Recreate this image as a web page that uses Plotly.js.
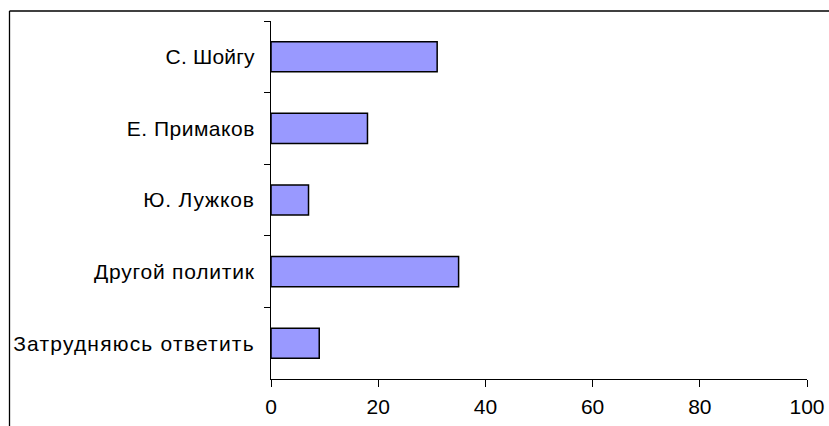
<!DOCTYPE html>
<html>
<head>
<meta charset="utf-8">
<script src="https://cdn.plot.ly/plotly-3.0.1.min.js"></script>
<style>
html,body{margin:0;padding:0;background:#fff;}
#chart{width:829px;height:426px;}
#chart .ytick:nth-of-type(5) text{letter-spacing:0.2px;}
#chart .ytick:nth-of-type(4) text{letter-spacing:0.5px;}
#chart .ytick:nth-of-type(3) text{letter-spacing:0.85px;}
#chart .ytick:nth-of-type(2) text{letter-spacing:0.8px;}
#chart .ytick:nth-of-type(1) text{letter-spacing:1.2px;}
</style>
</head>
<body>
<div id="chart"></div>
<script>
const categories = ["С. Шойгу", "Е. Примаков", "Ю. Лужков", "Другой политик", "Затрудняюсь ответить"];
const values = [31, 18, 7, 35, 9];
const xTicks = [0, 20, 40, 60, 80, 100];

const W = 829, H = 426;
const m = {l: 271, r: 22, t: 21, b: 47};
const pw = W - m.l - m.r, ph = H - m.t - m.b;
const px = v => (v - m.l) / pw;
const py = v => 1 - (v - m.t) / ph;

const trace = {
  type: 'bar',
  orientation: 'h',
  x: values,
  y: categories,
  width: 0.42,
  marker: {color: '#9999FF', line: {color: '#000000', width: 1.5}},
  hoverinfo: 'none'
};

const layout = {
  width: W, height: H,
  margin: m,
  paper_bgcolor: '#ffffff',
  plot_bgcolor: '#ffffff',
  showlegend: false,
  font: {family: '"Liberation Sans", Arial, sans-serif', size: 21, color: '#000'},
  xaxis: {
    range: [0, 100],
    tickvals: xTicks,
    ticktext: xTicks.map(String),
    ticks: 'outside', ticklen: 7, tickwidth: 1, tickcolor: '#000',
    ticklabelstandoff: 2,
    showline: true, linecolor: '#000', linewidth: 1,
    showgrid: false, zeroline: false,
    tickfont: {size: 21}
  },
  yaxis: {
    type: 'category',
    categoryorder: 'array', categoryarray: categories,
    range: [4.5, -0.5],
    ticks: 'outside', ticklen: 6, tickwidth: 1, tickcolor: '#000',
    tickson: 'boundaries',
    ticklabelstandoff: 11,
    showline: true, linecolor: '#000', linewidth: 1,
    showgrid: false, zeroline: false,
    tickfont: {size: 21}
  },
  shapes: [
    {type: 'line', xref: 'paper', yref: 'paper', x0: px(9.5), x1: px(830), y0: py(11), y1: py(11), line: {color: '#000', width: 1.3}},
    {type: 'line', xref: 'paper', yref: 'paper', x0: px(9.5), x1: px(9.5), y0: py(11), y1: py(430), line: {color: '#000', width: 1.3}}
  ]
};

Plotly.newPlot('chart', [trace], layout, {displayModeBar: false, staticPlot: true});
</script>
</body>
</html>
